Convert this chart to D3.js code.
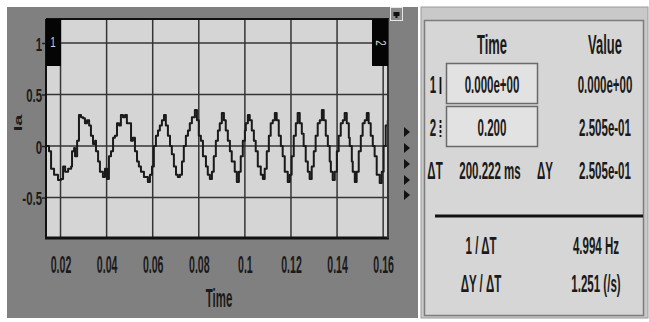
<!DOCTYPE html>
<html>
<head>
<meta charset="utf-8">
<script src="https://cdn.jsdelivr.net/npm/d3@7"></script>
<style>
body { margin: 0; background: #fff; }
svg { display: block; }
text { font-family: "Liberation Sans", Arial, sans-serif; fill: #1a1a1a; }
</style>
</head>
<body>
<div class="content"></div>
<script>
// waveform (seconds, amps)
var timeSec = [
    0.0141,0.0150,0.0159,0.0172,0.0189,0.0202,0.0211,0.0220,0.0233,0.0246,
    0.0250,0.0259,0.0263,0.0272,0.0280,0.0289,0.0298,0.0306,0.0315,0.0324,
    0.0332,0.0341,0.0350,0.0354,0.0363,0.0371,0.0384,0.0393,0.0402,0.0410,
    0.0419,0.0428,0.0436,0.0445,0.0454,0.0462,0.0471,0.0480,0.0488,0.0497,
    0.0506,0.0514,0.0523,0.0532,0.0540,0.0549,0.0562,0.0579,0.0588,0.0597,
    0.0605,0.0614,0.0623,0.0631,0.0640,0.0649,0.0657,0.0666,0.0675,0.0683,
    0.0692,0.0701,0.0709,0.0718,0.0727,0.0735,0.0744,0.0753,0.0761,0.0770,
    0.0783,0.0792,0.0800,0.0809,0.0818,0.0831,0.0839,0.0848,0.0857,0.0865,
    0.0874,0.0883,0.0891,0.0900,0.0909,0.0917,0.0926,0.0935,0.0943,0.0956,
    0.0965,0.0974,0.0982,0.0991,0.1000,0.1004,0.1013,0.1021,0.1030,0.1039,
    0.1047,0.1056,0.1069,0.1078,0.1086,0.1095,0.1104,0.1112,0.1121,0.1130,
    0.1138,0.1147,0.1156,0.1164,0.1173,0.1186,0.1195,0.1203,0.1212,0.1221,
    0.1229,0.1238,0.1247,0.1255,0.1264,0.1273,0.1281,0.1290,0.1299,0.1307,
    0.1316,0.1325,0.1334,0.1342,0.1351,0.1360,0.1368,0.1373,0.1381,0.1390,
    0.1399,0.1407,0.1416,0.1425,0.1433,0.1442,0.1451,0.1455,0.1464,0.1468,
    0.1477,0.1485,0.1494,0.1503,0.1511,0.1520,0.1529,0.1537,0.1546,0.1555,
    0.1563,0.1572,0.1585,0.1594,0.1602,0.1611,0.1620
];
var currentIa = [
    0,-0.05,-0.22,-0.28,-0.33,-0.32,-0.20,-0.25,-0.22,-0.20,
    -0.05,-0.02,-0.10,0.05,0.30,0.28,0.27,0.22,0.25,0.20,
    0.10,0.02,0.05,-0.05,-0.15,-0.25,-0.30,-0.22,-0.32,-0.10,
    -0.05,0.08,0.10,0.22,0.20,0.30,0.28,0.30,0.22,0.22,
    0.05,0.08,-0.05,-0.15,-0.20,-0.25,-0.30,-0.35,-0.28,-0.20,
    0,0.10,0.15,0.20,0.25,0.30,0.20,0.10,0,-0.08,
    -0.20,-0.28,-0.30,-0.28,-0.15,0,0.10,0.15,0.22,0.28,
    0.35,0.25,0.10,0.05,-0.10,-0.20,-0.28,-0.32,-0.25,-0.10,
    0.05,0.15,0.22,0.32,0.25,0.15,0.05,-0.05,-0.15,-0.25,
    -0.35,-0.25,-0.10,0.05,0.15,0.22,0.30,0.25,0.15,0.05,
    -0.05,-0.20,-0.28,-0.32,-0.22,-0.05,0.10,0.22,0.25,0.32,
    0.25,0.10,0,-0.10,-0.25,-0.35,-0.28,-0.10,0.10,0.22,
    0.32,0.22,0.12,0,-0.15,-0.25,-0.32,-0.20,-0.05,0.10,
    0.22,0.25,0.35,0.25,0.10,0,-0.15,-0.25,-0.33,-0.25,
    -0.05,0.10,0.22,0.25,0.32,0.22,0.08,0,-0.15,-0.25,
    -0.35,-0.25,-0.05,0.10,0.22,0.25,0.32,0.22,0.10,0,
    -0.10,-0.28,-0.36,-0.25,0,0.20,0.25
];
var xDomain = [0.0137, 0.1621];
var yDomain = [-0.893, 1.233];
var xTicks = [0.02, 0.04, 0.06, 0.08, 0.1, 0.12, 0.14, 0.16];
var yTicks = [1, 0.5, 0, -0.5];

// cursor readout panel
var readoutHeads = ['Time', 'Value'];
var cursorIds = ['1', '2'];
var cursorTimes = ['0.000e+00', '0.200'];
var cursorValues = ['0.000e+00', '2.505e-01'];
var deltaRow = ['\u0394T', '200.222 ms', '\u0394Y', '2.505e-01'];
var derivedNames = ['1 / \u0394T', '\u0394Y / \u0394T'];
var derivedValues = ['4.994 Hz', '1.251 (/s)'];

var graph = {
    width: 649,
    height: 322,
    plot: {left: 46, top: 19, right: 388, bottom: 238},
    squeeze: 0.48,
    stroke: '#1a1a1a',
    strokeWidth: 2
};

graph.svg = d3.select('.content').append('svg')
    .attr('width', graph.width)
    .attr('height', graph.height);

// squeezed text, like the scope's narrow font
graph.text = function(parent, str, x, y, size, anchor, sx) {
    return parent.append('text')
        .attr('transform', 'translate(' + x + ',' + y + ') scale(' + (sx || graph.squeeze) + ',1)')
        .attr('text-anchor', anchor || 'middle')
        .style('font-size', size + 'px')
        .style('font-weight', 'bold')
        .text(str);
};

// left panel
graph.svg.append('rect').attr('x', 7).attr('y', 7).attr('width', 411).attr('height', 311).attr('fill', '#808080');

var p = graph.plot;
graph.xScale = d3.scaleLinear().domain(xDomain).range([p.left, p.right]);
graph.yScale = d3.scaleLinear().domain(yDomain).range([p.bottom, p.top]);

graph.svg.append('rect')
    .attr('x', p.left).attr('y', p.top)
    .attr('width', p.right - p.left).attr('height', p.bottom - p.top)
    .attr('fill', '#d5d5d5');

graph.svg.append('clipPath').attr('id', 'plotclip').append('rect')
    .attr('x', p.left).attr('y', p.top)
    .attr('width', p.right - p.left).attr('height', p.bottom - p.top);

// grid
graph.svg.append('g').selectAll('line').data(xTicks).enter().append('line')
    .attr('x1', function(d) { return graph.xScale(d); })
    .attr('x2', function(d) { return graph.xScale(d); })
    .attr('y1', p.top).attr('y2', p.bottom)
    .attr('stroke', '#353535').attr('stroke-width', 1.5);
graph.svg.append('g').selectAll('line').data(yTicks).enter().append('line')
    .attr('x1', p.left).attr('x2', p.right)
    .attr('y1', function(d) { return graph.yScale(d); })
    .attr('y2', function(d) { return graph.yScale(d); })
    .attr('stroke', '#353535').attr('stroke-width', 1.5);

// trace
var points = timeSec.map(function(t, i) { return {t: t, v: currentIa[i]}; });
graph.line = d3.line()
    .curve(d3.curveStepAfter)
    .x(function(d) { return graph.xScale(d.t); })
    .y(function(d) { return graph.yScale(d.v); });
graph.svg.append('path')
    .attr('clip-path', 'url(#plotclip)')
    .attr('d', graph.line(points))
    .style('fill', 'none')
    .style('stroke', graph.stroke)
    .style('stroke-width', graph.strokeWidth)
    .style('stroke-linejoin', 'round');

// axes
var yAxis = graph.svg.append('g')
    .attr('transform', 'translate(' + p.left + ',0)')
    .call(d3.axisLeft(graph.yScale).tickValues(yTicks).tickSize(4).tickFormat(function(d) { return String(d); }));
yAxis.select('.domain').remove();
yAxis.selectAll('line').attr('stroke', '#222').attr('stroke-width', 1.5);
yAxis.selectAll('text')
    .attr('x', null).attr('dy', null)
    .attr('transform', 'translate(-4,7) scale(0.6,1)')
    .style('font-size', '19px').style('font-weight', 'bold')
    .attr('fill', '#1a1a1a');

var xAxis = graph.svg.append('g')
    .attr('transform', 'translate(0,' + p.bottom + ')')
    .call(d3.axisBottom(graph.xScale).tickValues(xTicks).tickSize(0).tickFormat(function(d) { return String(d); }));
xAxis.select('.domain').remove();
xAxis.selectAll('text')
    .attr('y', null).attr('dy', null)
    .attr('transform', 'translate(0,35) scale(0.46,1)')
    .style('font-size', '23px').style('font-weight', 'bold')
    .attr('fill', '#1a1a1a');

// frame
graph.svg.append('line').attr('x1', p.left).attr('x2', p.right + 1).attr('y1', p.top).attr('y2', p.top).attr('stroke', '#111').attr('stroke-width', 2);
graph.svg.append('line').attr('x1', p.left - 1).attr('x2', p.right + 1).attr('y1', p.bottom).attr('y2', p.bottom).attr('stroke', '#111').attr('stroke-width', 3);
graph.svg.append('line').attr('x1', p.left).attr('x2', p.left).attr('y1', p.top).attr('y2', p.bottom).attr('stroke', '#111').attr('stroke-width', 2);
graph.svg.append('line').attr('x1', p.right).attr('x2', p.right).attr('y1', p.top).attr('y2', p.bottom).attr('stroke', '#333').attr('stroke-width', 2);

// cursor tabs
graph.svg.append('rect').attr('x', p.left).attr('y', p.top).attr('width', 15).attr('height', 47).attr('fill', '#050505');
graph.svg.append('rect').attr('x', p.right - 16).attr('y', p.top).attr('width', 16).attr('height', 47).attr('fill', '#050505');
graph.text(graph.svg, cursorIds[0], 53, 47, 14, 'middle', 0.7).style('fill', '#cfcfcf').style('font-weight', 'normal');
graph.svg.append('text')
    .attr('transform', 'translate(' + (p.right - 12) + ',43) rotate(90) scale(0.7,1)')
    .attr('text-anchor', 'middle')
    .style('font-size', '14px').style('fill', '#cfcfcf')
    .text(cursorIds[1]);

// axis titles
graph.text(graph.svg, 'Time', 219, 307, 26, 'middle', 0.44);
graph.svg.append('text')
    .attr('transform', 'translate(22,123) rotate(-90) scale(1,0.55)')
    .attr('text-anchor', 'middle')
    .style('font-size', '20px').style('font-weight', 'bold')
    .text('Ia');

// little corner button and side arrows
graph.svg.append('rect').attr('x', 390.5).attr('y', 7.5).attr('width', 12).attr('height', 13).attr('fill', '#8a8a8a').attr('stroke', '#e6e6e6');
graph.svg.append('path').attr('d', 'M393.5,12 h6 v4 h-2 v2 h-2 v-2 h-2 z').attr('fill', '#111');
[132, 148, 164, 180, 195].forEach(function(cy) {
    graph.svg.append('path')
        .attr('d', 'M404,' + (cy - 5) + ' L410,' + cy + ' L404,' + (cy + 5) + ' Z')
        .attr('fill', '#111');
});

// right readout panel
var r = graph.svg.append('g');
r.append('rect').attr('x', 421).attr('y', 7).attr('width', 227).attr('height', 311).attr('fill', '#c9c9c9').attr('stroke', '#9a9a9a');
r.append('rect').attr('x', 424.5).attr('y', 20.5).attr('width', 219).attr('height', 295).attr('fill', '#d6d6d6').attr('stroke', '#7c7c7c').attr('stroke-width', 1.5);

graph.text(r, readoutHeads[0], 492, 54, 27);
graph.text(r, readoutHeads[1], 605, 54, 27);

var rowTop = [63, 106];
var rowBase = [93, 136];
cursorIds.forEach(function(id, i) {
    r.append('rect').attr('x', 446.5).attr('y', rowTop[i] + 0.5).attr('width', 91).attr('height', 40)
        .attr('fill', '#e2e2e2').attr('stroke', '#6a6a6a').attr('stroke-width', 1.5);
    graph.text(r, id, 433, rowBase[i], 24);
    r.append('line').attr('x1', 440.5).attr('x2', 440.5)
        .attr('y1', rowBase[i] - 16).attr('y2', rowBase[i] + 1)
        .attr('stroke', '#111').attr('stroke-width', 1.8)
        .attr('stroke-dasharray', i === 0 ? null : '3,2');
    graph.text(r, cursorTimes[i], 492, rowBase[i], 24);
    graph.text(r, cursorValues[i], 605, rowBase[i], 24);
});

graph.text(r, deltaRow[0], 435, 179, 24);
graph.text(r, deltaRow[1], 490, 179, 24);
graph.text(r, deltaRow[2], 545, 179, 24);
graph.text(r, deltaRow[3], 605, 179, 24);

r.append('line').attr('x1', 435).attr('x2', 643).attr('y1', 216).attr('y2', 216).attr('stroke', '#111').attr('stroke-width', 3);

var derivedBase = [254, 292];
derivedNames.forEach(function(n, i) {
    graph.text(r, n, 481, derivedBase[i], 24);
    graph.text(r, derivedValues[i], 596, derivedBase[i], 24);
});
</script>
</body>
</html>
